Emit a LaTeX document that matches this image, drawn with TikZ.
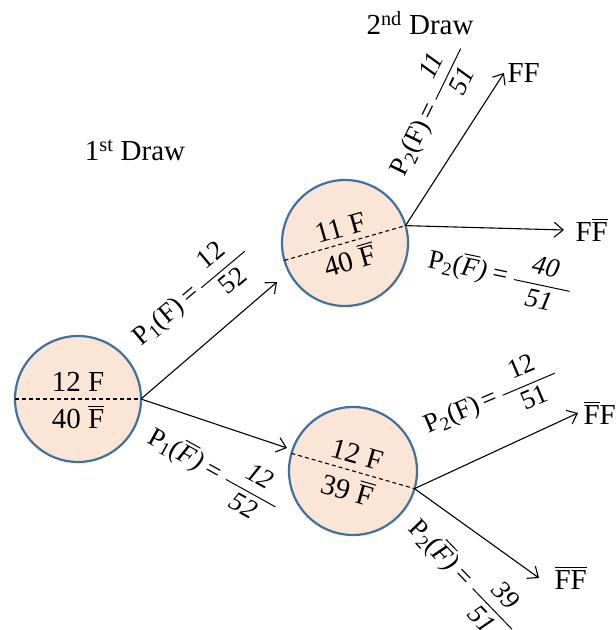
\documentclass[tikz,border=0pt]{standalone}
\usepackage{amsmath}
\usepackage{fontspec}
\setmainfont{Liberation Serif}
\usepackage{tikz}
\usetikzlibrary{arrows.meta,calc,positioning}
\definecolor{urnedge}{HTML}{41719C}
\definecolor{urnfill}{HTML}{FBE5D6}
\newcommand{\Fb}{$\overline{\mbox{F}}$}
\newcommand{\prob}[4]{P\textsubscript{#1}(#2)\,=\,$\dfrac{\makebox[2.1em]{#3}}{\makebox[2.1em]{#4}}$}

\begin{document}
\begin{tikzpicture}[x=1pt,y=1pt,
    font=\fontsize{29}{32}\selectfont,
    urn/.style={circle,draw=urnedge,fill=urnfill,line width=2.2pt,minimum size=126pt,inner sep=0pt,outer sep=0pt},
    split/.style={line width=1.1pt,dash pattern=on 4pt off 3pt},
    branch/.style={-{Straight Barb[length=9pt,width=15pt]},line width=1.1pt},
    lbl/.style={font=\fontsize{27}{30}\selectfont,inner sep=1pt}]
    \useasboundingbox (0,0) rectangle (616,630);
    % urns
    \node[urn] (A) at (78,231) {};
    \node[urn] (B) at (345,387) {};
    \node[urn,minimum size=128pt] (C) at (353,159) {};
    \draw[split] (A.west) -- (A.east);
    \draw[split] (B.196) -- (B.16);
    \draw[split] (C.164) -- (C.-16);
    \node (Atop) at ($(A)+(0,17)$) {12 F};
    \node (Abot) at ($(A)+(0,-18)$) {40 \Fb};
    \node[rotate=16] (Btop) at ($(B)+(106:16)$) {11 F};
    \node[rotate=16] (Bbot) at ($(B)+(286:17)$) {40 \Fb};
    \node[rotate=-16] (Ctop) at ($(C)+(74:17)$) {12 F};
    \node[rotate=-16] (Cbot) at ($(C)+(254:18)$) {39 \Fb};

    % arrow tips and outcomes
    \coordinate (tAB) at (277,348);
    \coordinate (tAC) at (287,182);
    \coordinate (tFF) at (504,557);
    \coordinate (tFFb) at (564,400);
    \coordinate (tFbF) at (578,217);
    \coordinate (tFbFb) at (539,52);
    \node[right=0pt of tFF] (FF) {FF};
    \node[right=8pt of tFFb] (FFb) {F\Fb};
    \node[right=2pt of tFbF] (FbF) {\Fb F};
    \node[right=12pt of tFbFb] (FbFb) {\Fb\Fb};

    \draw[branch] (A.east) -- (tAB);
    \draw[branch] (A.east) -- (tAC);
    \foreach \t in {tFF,tFFb} \draw[branch] (B.16) -- (\t);
    \foreach \t in {tFbF,tFbFb} \draw[branch] (C.-16) -- (\t);

    \node (draw2) at (420,607) {2\textsuperscript{nd} Draw};
    \node (draw1) at (135,480) {1\textsuperscript{st} Draw};

    % probabilities
    \node[lbl,rotate=40] (pAB) at (190,336) {\prob{1}{F}{12}{52}};
    \node[lbl,rotate=-29] (pAC) at (214,160) {\prob{1}{\itshape\Fb}{\textit{12}}{\textit{52}}};
    \node[lbl,rotate=64] (pBF) at (428,520) {\prob{2}{F}{\textit{11}}{\textit{51}}};
    \node[lbl,rotate=-12] (pBFb) at (500,356) {\prob{2}{\itshape\Fb}{\textit{40}}{\textit{51}}};
    \node[lbl,rotate=23] (pCF) at (490,232) {\prob{2}{F}{12}{51}};
    \node[lbl,rotate=-46] (pCFb) at (464,54) {\prob{2}{\itshape\Fb}{\textit{39}}{\textit{51}}};
\end{tikzpicture}
\end{document}
